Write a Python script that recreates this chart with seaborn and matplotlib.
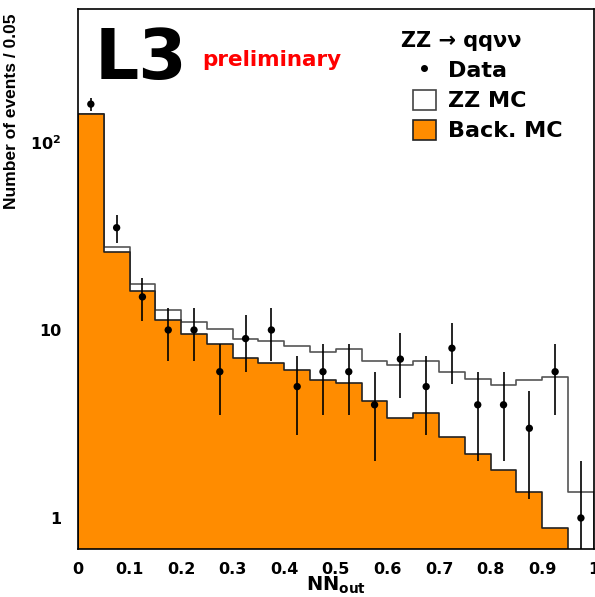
import numpy as np
import pandas as pd
import seaborn as sns
import matplotlib.pyplot as plt
from matplotlib.patches import Patch
from matplotlib.lines import Line2D

# NN output bins (width 0.05)
bin_edges = [round(0.05 * i, 2) for i in range(21)]
bin_centers = [round(0.025 + 0.05 * i, 3) for i in range(20)]

# stacked MC: background and total (background + ZZ signal)
back_mc = [141, 26.0, 16.1, 11.3, 9.5, 8.4, 7.1, 6.7, 6.1, 5.4,
           5.2, 4.2, 3.4, 3.6, 2.7, 2.2, 1.8, 1.37, 0.88, 0.0]
total_mc = [141, 27.6, 17.6, 12.8, 11.0, 10.1, 9.0, 8.7, 8.2, 7.6,
            7.9, 6.8, 6.5, 6.8, 6.0, 5.5, 5.1, 5.4, 5.6, 1.37]
data_counts = [159, 35, 15, 10, 10, 6, 9, 10, 5, 6,
               6, 4, 7, 5, 8, 4, 4, 3, 6, 1]

df = pd.DataFrame({"nn": bin_centers, "back": back_mc, "total": total_mc,
                   "data": data_counts})
df["err"] = np.sqrt(df["data"])

sns.set_style("white")
plt.rcParams["font.family"] = ["DejaVu Sans"]
for key in ["text.color", "axes.labelcolor", "xtick.color", "ytick.color"]:
    plt.rcParams[key] = "black"

fig = plt.figure(figsize=(5.95, 5.97), dpi=100)
ax = fig.add_axes([0.131, 0.0804, 0.867, 0.9046])

# ZZ MC (total) drawn first, background on top
sns.histplot(data=df, x="nn", weights="total", bins=bin_edges, element="step",
             fill=True, color="white", alpha=1, edgecolor="#555555",
             linewidth=1.2, ax=ax)
sns.histplot(data=df, x="nn", weights="back", bins=bin_edges, element="step",
             fill=True, color="#ff8c00", alpha=1, edgecolor="#222222",
             linewidth=1.2, ax=ax)

ax.set_yscale("log")
ax.errorbar(df["nn"], df["data"], yerr=df["err"], fmt="none", ecolor="black",
            elinewidth=1.2, capsize=0, zorder=4)
sns.scatterplot(data=df, x="nn", y="data", color="black", s=28,
                edgecolor="none", zorder=5, ax=ax)

ax.set_xlim(0, 1)
ax.set_ylim(0.684, 510)
ax.set_axisbelow(True)
ax.set_xticks([0, 0.1, 0.2, 0.3, 0.4, 0.5, 0.6, 0.7, 0.8, 0.9, 1])
ax.set_xticklabels(["0", "0.1", "0.2", "0.3", "0.4", "0.5", "0.6", "0.7",
                    "0.8", "0.9", "1"], fontweight="bold", fontsize=11.5)
ax.set_yticks([1, 10, 100])
ax.set_yticklabels(["1", "10", r"$\mathbf{10^{2}}$"], fontweight="bold",
                   fontsize=11.5)
ax.tick_params(axis="both", direction="in", length=10, width=1, pad=12)
ax.tick_params(axis="y", which="minor", direction="in", length=7, width=1)
ax.tick_params(axis="x", pad=9)

for s in ax.spines.values():
    s.set_color("black")
    s.set_linewidth(1.2)

ax.set_xlabel(r"$\mathbf{NN_{out}}$", fontsize=14, labelpad=-1)
ax.set_ylabel("Number of events / 0.05",
              family=["Liberation Sans Narrow", "Liberation Sans"],
              fontweight="bold", fontsize=12.5, labelpad=4)
ax.yaxis.set_label_coords(-0.115, 0.81)

ax.text(0.033, 0.968, "L3", transform=ax.transAxes, fontsize=50,
        fontweight="bold", va="top", ha="left")
ax.text(0.24, 0.895, "preliminary", transform=ax.transAxes, fontsize=15.5,
        fontweight="bold", color="red", va="baseline", ha="left")
ax.text(0.626, 0.93, "ZZ → qqνν", transform=ax.transAxes, fontsize=15,
        fontweight="bold", va="baseline", ha="left")

handles = [
    Line2D([], [], marker="o", color="black", linestyle="none", markersize=4),
    Patch(facecolor="white", edgecolor="#444444", linewidth=1.2),
    Patch(facecolor="#ff8c00", edgecolor="#222222", linewidth=1.2),
]
ax.legend(handles, ["Data", "ZZ MC", "Back. MC"], loc="upper left",
          bbox_to_anchor=(0.62, 0.935), frameon=False,
          prop={"weight": "bold", "size": 16}, handlelength=1.0,
          handleheight=1.0, handletextpad=0.55, labelspacing=0.38,
          borderpad=0.2)

fig.savefig("out.png", dpi=100)
